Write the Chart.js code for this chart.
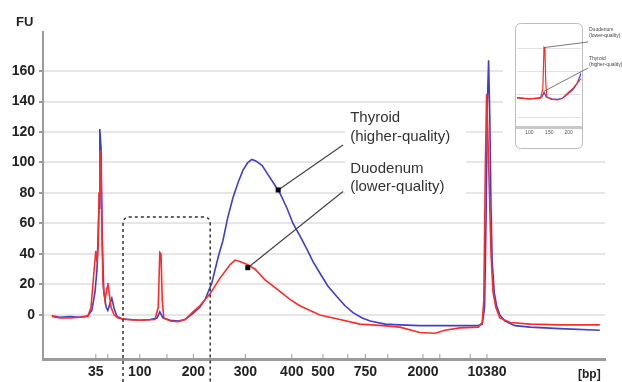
<!DOCTYPE html>
<html>
<head>
<meta charset="utf-8">
<script src="https://cdn.jsdelivr.net/npm/chart.js@4/dist/chart.umd.min.js"></script>
<style>
    html, body { margin: 0; padding: 0; background: #ffffff; }
    #wrap { position: relative; width: 622px; height: 382px; }
    #main { position: absolute; left: 0; top: 0; }
    #inset { position: absolute; left: 513px; top: 20px; }
</style>
</head>
<body>
<div id="wrap">
    <canvas id="main" width="622" height="382"></canvas>
    <canvas id="inset" width="109" height="132"></canvas>
</div>
<script>
// Migration time (s) and fluorescence (FU)
const thyroidTime = [41.1, 42.1, 43.4, 44.6, 45.6, 46.1, 46.5, 46.75, 47.0, 47.1, 47.25, 47.4, 47.6, 47.9, 48.1, 48.4, 48.6, 48.9, 49.25, 49.9,
    50.9, 52.1, 53.4, 54.25, 54.6, 55.0, 55.9, 56.9, 57.75, 58.75, 59.6, 60.25, 61.1, 61.9, 62.5, 63.1, 63.75, 64.4, 65.0, 65.6,
    66.1, 66.6, 67.4, 68.0, 68.75, 69.6, 70.5, 71.25, 72.1, 73.0, 73.75, 74.6, 75.6, 76.75, 77.75, 78.75, 79.9, 80.9, 82.75, 84.6,
    87.1, 89.6, 92.1, 94.4, 94.9, 95.2, 95.4, 95.55, 95.7, 95.85, 96.0, 96.15, 96.4, 96.7, 97.1, 97.75, 99.0, 100.9, 104.6, 109.6];
const thyroidFU = [-0.5, -1.5, -1, -1.5, -0.5, 3, 15, 30, 70, 122, 110, 50, 15, 5, 3, 8, 11, 4, -1, -2.5,
    -3, -3.5, -3, -2, 2, -2, -3.5, -4, -3, 1, 5, 10, 21, 38, 49, 64, 77, 87, 95, 100,
    102, 101, 98, 93, 87, 80, 70, 60, 52, 43, 35, 27.5, 19, 12, 6, 1.5, -2, -4, -6, -6.5,
    -7, -7, -7, -7, -6, 5, 70, 140, 167, 130, 70, 35, 15, 6, 0, -4, -7, -8, -9, -10];

const duodenumTime = [41.1, 42.1, 43.4, 44.6, 45.6, 46.0, 46.4, 46.6, 46.75, 46.9, 47.0, 47.1, 47.25, 47.4, 47.5, 47.75, 48.0, 48.1, 48.25, 48.5,
    48.9, 49.4, 50.25, 52.1, 54.0, 54.4, 54.6, 54.75, 54.9, 55.1, 55.9, 56.9, 57.75, 58.75, 59.6, 60.9, 62.1, 63.4, 64.0, 64.6,
    65.6, 66.5, 67.75, 69.25, 70.9, 72.1, 74.6, 77.1, 79.6, 82.5, 84.6, 87.1, 89.0, 90.25, 92.1, 94.4, 94.9, 95.1, 95.3, 95.45,
    95.6, 95.75, 96.0, 96.25, 96.6, 97.1, 98.4, 100.9, 104.6, 109.6];
const duodenumFU = [-1, -2, -2, -1.5, -1, 5, 30, 42, 35, 45, 80, 108, 100, 45, 20, 10, 18, 21, 15, 5,
    0, -2, -3, -3.5, -3, 5, 41, 40, 10, -2, -4, -4.5, -3, 2, 6, 14, 24, 33, 36, 35,
    33, 30, 23, 17, 10, 6, 0, -3, -6, -7, -8, -11.5, -12, -10, -8.5, -8, -5, 10, 100, 145,
    120, 90, 40, 15, 5, -2, -5, -6, -6.5, -6.5];

// Ladder positions on the time axis and their size labels
const ladderTime = [46.6, 48.1, 52.1, 55.5, 58.8, 65.3, 71.1, 75.0, 78.1, 80.3, 83.1, 87.5, 89.6, 93.4, 95.5];
const ladderLabels = ['35', '', '100', '', '200', '300', '400', '500', '', '750', '', '2000', '', '', '10380'];
const fuTicks = [0, 20, 40, 60, 80, 100, 120, 140, 160];

// Inset: zoom of the dashed window
const insetLadderTime = [52.1, 55.5, 58.8];
const insetLadderLabels = ['100', '150', '200'];
const insetFuTicks = [-20, 0, 20, 40];

const colors = {
    blue: '#3f3fc8',
    red: '#ff2b2b',
    axis: '#9a9a9a',
    grid: '#e6e6e6',
    text: '#222222'
};
const font = '"Liberation Sans", Arial, sans-serif';

function toPoints(times, values) {
    return times.map((t, i) => ({ x: t, y: values[i] }));
}

// Decorations: labels, leader lines, dashed window
const decorMain = {
    id: 'decorMain',
    beforeDatasetsDraw(chart) {
        const { ctx, scales: { x, y } } = chart;
        ctx.save();
        ctx.fillStyle = '#ffffff';
        // gridlines stop before the inset
        ctx.fillRect(503, 0, 119, 150);
        // boxes behind the annotation text
        const lx = x.getPixelForValue(78.4);
        ctx.fillRect(lx - 5, y.getPixelForValue(126.6) - 17, 121, 43);
        ctx.fillRect(lx - 5, y.getPixelForValue(93.1) - 18, 121, 42);
        ctx.restore();
    },
    afterDatasetsDraw(chart) {
        const { ctx, chartArea, scales: { x, y } } = chart;
        ctx.save();

        // dashed window (100-200 bp)
        const left = x.getPixelForValue(50.0);
        const right = x.getPixelForValue(60.9);
        const top = y.getPixelForValue(64.3);
        const bottom = chart.height;
        const r = 7;
        ctx.strokeStyle = '#333333';
        ctx.lineWidth = 1.5;
        ctx.setLineDash([3, 3]);
        ctx.beginPath();
        ctx.moveTo(left, bottom);
        ctx.lineTo(left, top + r);
        ctx.quadraticCurveTo(left, top, left + r, top);
        ctx.lineTo(right - r, top);
        ctx.quadraticCurveTo(right, top, right, top + r);
        ctx.lineTo(right, bottom);
        ctx.stroke();
        ctx.setLineDash([]);

        // leader lines with markers
        const leaders = [
            [69.4, 82, 77.5, 111.5],
            [65.6, 31, 77.5, 81]
        ];
        ctx.strokeStyle = '#444444';
        ctx.fillStyle = '#000000';
        ctx.lineWidth = 1.2;
        leaders.forEach(([x0, y0, x1, y1]) => {
            const px0 = x.getPixelForValue(x0), py0 = y.getPixelForValue(y0);
            ctx.beginPath();
            ctx.moveTo(px0, py0);
            ctx.lineTo(x.getPixelForValue(x1), y.getPixelForValue(y1));
            ctx.stroke();
            ctx.fillRect(px0 - 2.5, py0 - 2.5, 5, 5);
        });

        // annotation text
        const lx = x.getPixelForValue(78.4);
        ctx.fillStyle = '#333333';
        ctx.font = '15px ' + font;
        ctx.textBaseline = 'alphabetic';
        let by = y.getPixelForValue(126.6);
        ctx.fillText('Thyroid', lx, by);
        ctx.fillText('(higher-quality)', lx, by + 19);
        by = y.getPixelForValue(93.1);
        ctx.fillText('Duodenum', lx, by);
        ctx.fillText('(lower-quality)', lx, by + 18);

        // small ladder ticks above the time axis
        ctx.strokeStyle = colors.axis;
        ctx.lineWidth = 1;
        ladderTime.forEach(t => {
            const px = x.getPixelForValue(t);
            ctx.beginPath();
            ctx.moveTo(px, chartArea.bottom - 5);
            ctx.lineTo(px, chartArea.bottom - 1);
            ctx.stroke();
        });

        // axis titles
        ctx.fillStyle = colors.text;
        ctx.font = 'bold 13px ' + font;
        ctx.fillText('FU', 16, 26);
        ctx.font = 'bold 12px ' + font;
        ctx.fillText('[bp]', 578, 378);
        ctx.restore();
    }
};

const decorInset = {
    id: 'decorInset',
    beforeDraw(chart) {
        const { ctx } = chart;
        ctx.save();
        ctx.fillStyle = '#ffffff';
        ctx.strokeStyle = '#bdbdbd';
        ctx.lineWidth = 1;
        ctx.beginPath();
        ctx.roundRect(2.5, 3.5, 67, 125, 5);
        ctx.fill();
        ctx.stroke();
        ctx.restore();
    },
    afterDatasetsDraw(chart) {
        const { ctx, scales: { x, y } } = chart;
        ctx.save();
        ctx.strokeStyle = '#555555';
        ctx.lineWidth = 0.8;
        const px = x.getPixelForValue(54.6);
        ctx.beginPath();
        ctx.moveTo(px, y.getPixelForValue(41));
        ctx.lineTo(75, 22);
        ctx.moveTo(px, y.getPixelForValue(3));
        ctx.lineTo(75, 48);
        ctx.stroke();
        ctx.fillStyle = '#444444';
        ctx.font = '5px ' + font;
        ctx.fillText('Duodenum', 76, 11);
        ctx.fillText('(lower-quality)', 76, 17);
        ctx.fillText('Thyroid', 76, 40);
        ctx.fillText('(higher-quality)', 76, 46);
        ctx.restore();
    }
};

function seriesDatasets(width) {
    return [
        {
            label: 'Duodenum (lower-quality)',
            data: toPoints(duodenumTime, duodenumFU),
            borderColor: colors.red,
            borderWidth: width,
            pointRadius: 0,
            tension: 0
        },
        {
            label: 'Thyroid (higher-quality)',
            data: toPoints(thyroidTime, thyroidFU),
            borderColor: colors.blue,
            borderWidth: width,
            pointRadius: 0,
            tension: 0
        }
    ];
}

new Chart(document.getElementById('main'), {
    type: 'line',
    data: { datasets: seriesDatasets(1.6) },
    options: {
        responsive: false,
        animation: false,
        layout: { padding: { top: 32, right: 17, left: 0, bottom: 0 } },
        plugins: { legend: { display: false }, tooltip: { enabled: false } },
        scales: {
            x: {
                type: 'linear',
                min: 40,
                max: 110.25,
                afterFit: s => { s.height = 23; },
                afterBuildTicks: s => { s.ticks = ladderTime.map(v => ({ value: v })); },
                grid: { drawOnChartArea: false, drawTicks: false },
                border: { color: colors.axis, width: 3 },
                ticks: {
                    autoSkip: false,
                    maxRotation: 0,
                    padding: 5,
                    color: colors.text,
                    font: { family: font, size: 14, weight: 'bold' },
                    callback: (v, i) => ladderLabels[i]
                }
            },
            y: {
                min: -28.9,
                max: 185.6,
                afterFit: s => { s.width = 43; },
                afterBuildTicks: s => { s.ticks = fuTicks.map(v => ({ value: v })); },
                grid: { color: colors.grid, lineWidth: 2, tickColor: colors.axis, tickLength: 4 },
                border: { color: colors.axis, width: 2 },
                ticks: {
                    padding: 4,
                    color: colors.text,
                    font: { family: font, size: 14, weight: 'bold' }
                }
            }
        }
    },
    plugins: [decorMain]
});

new Chart(document.getElementById('inset'), {
    type: 'line',
    data: { datasets: seriesDatasets(1.2) },
    options: {
        responsive: false,
        animation: false,
        layout: { padding: { top: 8, right: 41, left: 4, bottom: 0 } },
        plugins: { legend: { display: false }, tooltip: { enabled: false } },
        scales: {
            x: {
                type: 'linear',
                min: 50.0,
                max: 60.9,
                afterFit: s => { s.height = 25; },
                afterBuildTicks: s => { s.ticks = insetLadderTime.map(v => ({ value: v })); },
                grid: { drawOnChartArea: false, tickColor: colors.axis, tickLength: 2 },
                border: { color: '#c8c8c8', width: 3 },
                ticks: {
                    autoSkip: false,
                    maxRotation: 0,
                    padding: 1,
                    color: '#555555',
                    font: { family: font, size: 5 },
                    callback: (v, i) => insetLadderLabels[i]
                }
            },
            y: {
                min: -28,
                max: 58,
                afterFit: s => { s.width = 0; },
                afterBuildTicks: s => { s.ticks = insetFuTicks.map(v => ({ value: v })); },
                grid: { color: '#e2e2e2', lineWidth: 1, drawTicks: false },
                border: { display: false },
                ticks: { display: false }
            }
        }
    },
    plugins: [decorInset]
});
</script>
</body>
</html>
